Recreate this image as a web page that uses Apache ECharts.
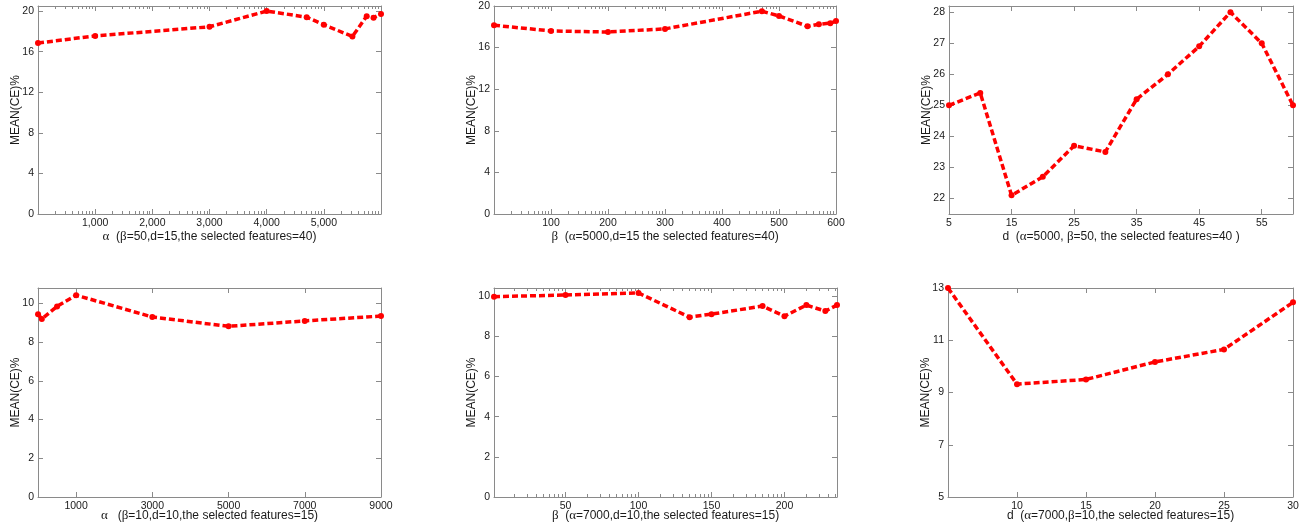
<!DOCTYPE html>
<html><head><meta charset="utf-8">
<script src="https://cdn.jsdelivr.net/npm/echarts@6/dist/echarts.min.js"></script>
<style>html,body{margin:0;padding:0;background:#fff}#c{width:1299px;height:524px}</style>
</head><body><div id="c"></div>
<script>
// ---- Data ----
// Panel 1: alpha (beta=50, d=15, features=40)
const alpha1 = [0, 1000, 3000, 4000, 4700, 5000, 5500, 5750, 5870, 6000];
const ce1    = [16.85, 17.55, 18.45, 20.0, 19.4, 18.65, 17.5, 19.5, 19.35, 19.7];
const xTicks1 = [1000, 2000, 3000, 4000, 5000];
const yTicks1 = [0, 4, 8, 12, 16, 20];
// Panel 2: beta (alpha=5000, d=15, features=40)
const beta2 = [0, 100, 200, 300, 470, 500, 550, 570, 590, 600];
const ce2   = [18.15, 17.6, 17.5, 17.8, 19.5, 19.05, 18.05, 18.25, 18.35, 18.55];
const xTicks2 = [100, 200, 300, 400, 500, 600];
const yTicks2 = [0, 4, 8, 12, 16, 20];
// Panel 3: d (alpha=5000, beta=50, features=40)
const d3  = [5, 10, 15, 20, 25, 30, 35, 40, 45, 50, 55, 60];
const ce3 = [25.0, 25.4, 22.1, 22.7, 23.7, 23.5, 25.2, 26.0, 26.9, 28.0, 27.0, 25.0];
const xTicks3 = [5, 15, 25, 35, 45, 55];
const yTicks3 = [22, 23, 24, 25, 26, 27, 28];
// Panel 4: alpha (beta=10, d=10, features=15)
const alpha4 = [1, 100, 500, 1000, 3000, 5000, 7000, 9000];
const ce4    = [9.45, 9.2, 9.85, 10.43, 9.3, 8.82, 9.1, 9.35];
const xTicks4 = [1000, 3000, 5000, 7000, 9000];
const yTicks4 = [0, 2, 4, 6, 8, 10];
// Panel 5: beta (alpha=7000, d=10, features=15)
const beta5 = [1, 50, 100, 135, 150, 185, 200, 215, 228, 236];
const ce5   = [9.97, 10.05, 10.15, 8.95, 9.1, 9.5, 9.0, 9.55, 9.25, 9.55];
const xTicks5 = [50, 100, 150, 200];
const yTicks5 = [0, 2, 4, 6, 8, 10];
// Panel 6: d (alpha=7000, beta=10, features=15)
const d6  = [5, 10, 15, 20, 25, 30];
const ce6 = [13.0, 9.32, 9.5, 10.17, 10.65, 12.45];
const xTicks6 = [10, 15, 20, 25, 30];
const yTicks6 = [5, 7, 9, 11, 13];

const yName = 'MEAN(CE)%';
const xNames = [
  '{g|α}  ({g|β}=50,d=15,the selected features=40)',
  '{g|β}  ({g|α}=5000,d=15 the selected features=40)',
  'd  ({g|α}=5000, {g|β}=50, the selected features=40 )',
  '{g|α}   ({g|β}=10,d=10,the selected features=15)',
  '{g|β}  ({g|α}=7000,d=10,the selected features=15)',
  'd  ({g|α}=7000,{g|β}=10,the selected features=15)'
];

const panels = [
  {x: alpha1, y: ce1, xt: xTicks1, yt: yTicks1, xr: [0, 6000], yr: [0, 20.5], minorStep: 1000, comma: true,
   grid: {left: 38, top: 6, width: 343, height: 208}, nameGap: 16},
  {x: beta2, y: ce2, xt: xTicks2, yt: yTicks2, xr: [0, 600], yr: [0, 20], minorStep: 100,
   grid: {left: 494, top: 6, width: 342, height: 208}, nameGap: 16},
  {x: d3, y: ce3, xt: xTicks3, yt: yTicks3, xr: [5, 60], yr: [21.5, 28.2], minorStep: 0,
   grid: {left: 949, top: 6, width: 344, height: 208}, nameGap: 16},
  {x: alpha4, y: ce4, xt: xTicks4, yt: yTicks4, xr: [0, 9000], yr: [0, 10.8], minorStep: 0,
   grid: {left: 38, top: 288, width: 343, height: 209}, nameGap: 12},
  {x: beta5, y: ce5, xt: xTicks5, yt: yTicks5, xr: [1, 236], yr: [0, 10.4], minorStep: 50,
   grid: {left: 494, top: 288, width: 343, height: 209}, nameGap: 12},
  {x: d6, y: ce6, xt: xTicks6, yt: yTicks6, xr: [5, 30], yr: [5, 13], minorStep: 0,
   grid: {left: 948, top: 288, width: 345, height: 209}, nameGap: 12}
];

function logMinor(step, min, max) {
  const out = [];
  for (let k = Math.floor(min / step) * step; k < max; k += step) {
    for (let m = 2; m <= 9; m++) {
      const v = k + step * Math.log10(m);
      if (v > min && v < max) out.push(v);
    }
  }
  return out;
}

const AX = '#8a8a8a';
const TXT = '#1a1a1a';
const FONT = '"Liberation Sans", Arial, sans-serif';
const grids = [], xAxes = [], yAxes = [], series = [];
const line = {show: true, onZero: false, lineStyle: {color: AX, width: 1}};

panels.forEach((p, i) => {
  grids.push(Object.assign({containLabel: false, outerBoundsMode: 'none'}, p.grid));
  const base = {gridIndex: i, type: 'value', min: p.xr[0], max: p.xr[1], splitLine: {show: false}};
  const xi = xAxes.length;
  xAxes.push(Object.assign({}, base, {
    position: 'bottom',
    axisLine: line,
    axisTick: {show: true, inside: true, length: 5, lineStyle: {color: AX}, customValues: p.xt},
    axisLabel: {show: true, margin: 4, color: TXT, fontFamily: FONT, fontSize: 10.5, customValues: p.xt,
      formatter: v => p.comma ? Number(v).toLocaleString('en-US') : String(v)},
    name: xNames[i], nameLocation: 'middle', nameGap: p.nameGap, nameMoveOverlap: false,
    nameTextStyle: {color: TXT, fontFamily: FONT, fontSize: 12,
      rich: {g: {fontFamily: '"Liberation Serif", "Times New Roman", serif', fontSize: 13, color: TXT}}}
  }));
  xAxes.push(Object.assign({}, base, {
    position: 'top',
    axisLine: line,
    axisTick: {show: true, inside: true, length: 5, lineStyle: {color: AX}, customValues: p.xt},
    axisLabel: {show: false}
  }));
  if (p.minorStep) {
    const mv = logMinor(p.minorStep, p.xr[0], p.xr[1]);
    ['bottom', 'top'].forEach(pos => {
      xAxes.push(Object.assign({}, base, {
        position: pos,
        axisLine: {show: false, onZero: false},
        axisTick: {show: true, inside: true, length: 3, lineStyle: {color: AX}, customValues: mv},
        axisLabel: {show: false}
      }));
    });
  }
  const ybase = {gridIndex: i, type: 'value', min: p.yr[0], max: p.yr[1], splitLine: {show: false}};
  const yi = yAxes.length;
  yAxes.push(Object.assign({}, ybase, {
    position: 'left',
    axisLine: line,
    axisTick: {show: true, inside: true, length: 5, lineStyle: {color: AX}, customValues: p.yt},
    axisLabel: {show: true, margin: 4, color: TXT, fontFamily: FONT, fontSize: 10.5, customValues: p.yt},
    name: yName, nameLocation: 'middle', nameRotate: 90, nameGap: 16, nameMoveOverlap: false,
    nameTextStyle: {color: TXT, fontFamily: FONT, fontSize: 12}
  }));
  yAxes.push(Object.assign({}, ybase, {
    position: 'right',
    axisLine: line,
    axisTick: {show: true, inside: true, length: 5, lineStyle: {color: AX}, customValues: p.yt},
    axisLabel: {show: false}
  }));
  series.push({
    type: 'line', xAxisIndex: xi, yAxisIndex: yi,
    data: p.x.map((v, k) => [v, p.y[k]]),
    symbol: 'circle', symbolSize: 6, showSymbol: true, clip: false,
    lineStyle: {color: '#ff0000', width: 3.5, type: [6, 3]},
    itemStyle: {color: '#ff0000'},
    emphasis: {disabled: true}
  });
});

const chart = echarts.init(document.getElementById('c'), null, {renderer: 'canvas'});
chart.setOption({
  backgroundColor: '#ffffff',
  animation: false,
  grid: grids, xAxis: xAxes, yAxis: yAxes, series: series
});
</script></body></html>
